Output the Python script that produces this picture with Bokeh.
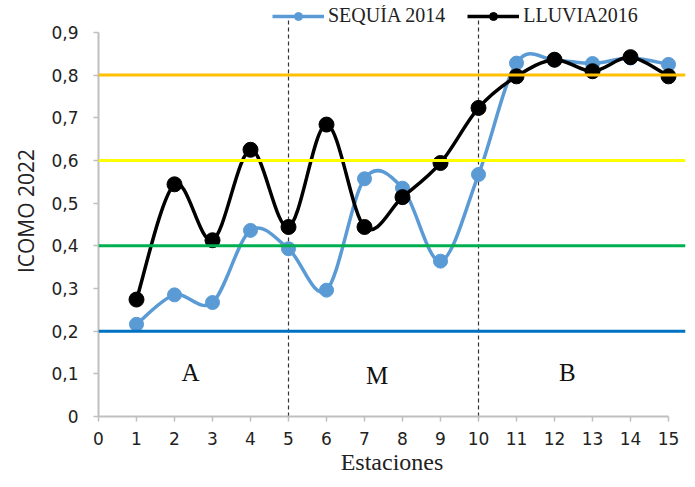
import numpy as np
from bokeh.plotting import figure
from bokeh.models import (Span, Legend, LegendItem, FixedTicker, CustomJSTickFormatter,
                          ColumnDataSource, Range1d)
from bokeh.core.properties import value
from bokeh.embed import file_html
from bokeh.resources import INLINE

# ---- data ----
estaciones = [1, 2, 3, 4, 5, 6, 7, 8, 9, 10, 11, 12, 13, 14, 15]
sequia_2014 = [0.216, 0.285, 0.267, 0.436, 0.393, 0.296, 0.557, 0.535, 0.364, 0.567,
               0.828, 0.835, 0.827, 0.840, 0.825]
lluvia_2016 = [0.274, 0.544, 0.413, 0.625, 0.444, 0.684, 0.444, 0.514, 0.594, 0.723,
               0.797, 0.836, 0.809, 0.842, 0.797]
x_ticks = list(range(0, 16))
y_ticks = [0, 0.1, 0.2, 0.3, 0.4, 0.5, 0.6, 0.7, 0.8, 0.9]
thresholds = [0.2, 0.4, 0.6, 0.8]
threshold_colors = ["#0070C0", "#00B050", "#FFFF00", "#FFC000"]
zone_bounds = [5, 10]
zone_labels = ["A", "M", "B"]
zone_label_x = [2.42, 7.33, 12.34]
zone_label_y = [0.102, 0.095, 0.102]
x_title = "Estaciones"
y_title = "ICOMO 2022"

# ---- figure ----
W, H = 687, 479
p = figure(width=W, height=H, output_backend="svg", toolbar_location=None,
           x_range=Range1d(0, 15.447), y_range=Range1d(0, 0.963),
           min_border_left=98, min_border_right=2, min_border_top=5, min_border_bottom=63)
p.outline_line_color = None
p.xgrid.visible = False
p.ygrid.visible = False
p.background_fill_color = "white"
p.border_fill_color = "white"

# axes
axis_color = "#BFBFBF"
for ax in (p.xaxis[0], p.yaxis[0]):
    ax.axis_line_color = axis_color
    ax.axis_line_width = 2
    ax.major_tick_line_color = axis_color
    ax.major_tick_line_width = 1.5
    ax.major_tick_out = 5
    ax.major_tick_in = 0
    ax.minor_tick_line_color = None
    ax.major_label_text_color = "#222222"

p.xaxis[0].ticker = FixedTicker(ticks=x_ticks)
p.xaxis[0].bounds = (0, 15)
p.xaxis[0].major_label_text_font = "DejaVu Sans"
p.xaxis[0].major_label_text_font_size = "17px"
p.xaxis[0].major_label_standoff = 10
p.xaxis[0].axis_label = x_title
p.xaxis[0].axis_label_text_font = "Liberation Serif"
p.xaxis[0].axis_label_text_font_size = "24px"
p.xaxis[0].axis_label_text_font_style = "normal"
p.xaxis[0].axis_label_text_color = "#222222"
p.xaxis[0].axis_label_standoff = 1

p.yaxis[0].ticker = FixedTicker(ticks=y_ticks)
p.yaxis[0].bounds = (0, 0.9)
p.yaxis[0].formatter = CustomJSTickFormatter(
    code="return tick == 0 ? '0' : tick.toFixed(1).replace('.', ',');")
p.yaxis[0].major_label_text_font = "DejaVu Sans"
p.yaxis[0].major_label_text_font_size = "17px"
p.yaxis[0].major_label_standoff = 15
p.yaxis[0].axis_label = y_title
p.yaxis[0].axis_label_text_font = "Open Sans"
p.yaxis[0].axis_label_text_font_size = "21px"
p.yaxis[0].axis_label_text_font_style = "normal"
p.yaxis[0].axis_label_text_color = "#222222"
p.yaxis[0].axis_label_standoff = 8

# threshold lines
for t, c in zip(thresholds, threshold_colors):
    p.add_layout(Span(location=t, dimension="width", line_color=c, line_width=3))

# zone separators
p.segment(x0=zone_bounds, y0=[0] * len(zone_bounds), x1=zone_bounds,
          y1=[0.928] * len(zone_bounds), line_color="#333333", line_width=1.2,
          line_dash="4 3")

# zone labels
p.text(x=zone_label_x, y=zone_label_y, text=zone_labels, text_align="center",
       text_baseline="middle", text_font=value("Liberation Serif"),
       text_font_size="25px", text_color="#111111")


def smooth_bezier(xs, ys):
    xs = np.asarray(xs, float)
    ys = np.asarray(ys, float)
    n = len(xs)
    x0, y0, x1, y1, cx0, cy0, cx1, cy1 = ([] for _ in range(8))
    for i in range(n - 1):
        im1 = max(i - 1, 0)
        ip2 = min(i + 2, n - 1)
        x0.append(xs[i]); y0.append(ys[i])
        x1.append(xs[i + 1]); y1.append(ys[i + 1])
        cx0.append(xs[i] + (xs[i + 1] - xs[im1]) / 6.0)
        cy0.append(ys[i] + (ys[i + 1] - ys[im1]) / 6.0)
        cx1.append(xs[i + 1] - (xs[ip2] - xs[i]) / 6.0)
        cy1.append(ys[i + 1] - (ys[ip2] - ys[i]) / 6.0)
    return ColumnDataSource(dict(x0=x0, y0=y0, x1=x1, y1=y1,
                                 cx0=cx0, cy0=cy0, cx1=cx1, cy1=cy1))


series = [("SEQUÍA 2014", sequia_2014, "#5B9BD5", 14),
          ("LLUVIA2016", lluvia_2016, "#000000", 15)]
items = []
for label, ys, color, size in series:
    src = smooth_bezier(estaciones, ys)
    bz = p.bezier(x0="x0", y0="y0", x1="x1", y1="y1", cx0="cx0", cy0="cy0",
                  cx1="cx1", cy1="cy1", source=src, line_color=color, line_width=3.5)
    sc = p.scatter(x=estaciones, y=ys, size=size, marker="circle",
                   fill_color=color, line_color=color)
    items.append(LegendItem(label=label, renderers=[bz, sc], index=0))

legend = Legend(items=items, orientation="horizontal", location=(174, 389),
                background_fill_alpha=0, border_line_color=None,
                label_text_font="Liberation Serif", label_text_font_size="20px",
                label_text_color="#222222", glyph_width=52, glyph_height=20,
                label_height=20, label_standoff=4, spacing=22, padding=0, margin=0)
p.add_layout(legend)

open("out.html", "w").write(file_html(p, INLINE))
